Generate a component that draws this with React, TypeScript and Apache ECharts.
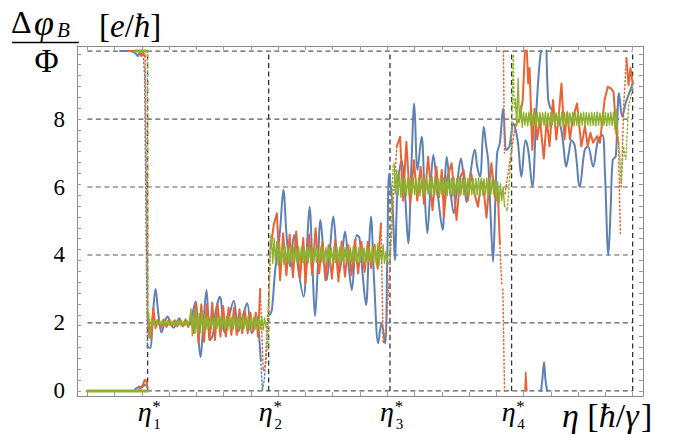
import React, { useEffect, useRef } from "react";
import * as echarts from "echarts";

type Pt = [number, number];

const SERIF = "Liberation Serif";
const BLUE = "#5E81B5";
const ORANGE = "#EB6235";
const GREEN = "#8FB131";

const X_MIN = -0.38;
const X_MAX = 20.38;
const Y_MIN = -0.15;
const Y_MAX = 10.15;

const yLabelValues = [0, 2, 4, 6, 8];
const gridYValues = [0, 2, 4, 6, 8, 10];
const etaStars = [2.21, 6.65, 11.1, 15.56];
const etaEnd = 20;
const etaSubs = ["1", "2", "3", "4"];
const xTickValues = Array.from({ length: 21 }, (_, i) => i);
const yTickValues = Array.from({ length: 32 }, (_, i) => +(i * 0.32).toFixed(2));

// ---------- blue ----------
const blueLow: Pt[] = [[0, 0], [1.7, 0], [1.8, 0.08], [1.9, 0.12], [2.0, 0.1], [2.1, 0.18], [2.18, 0.15]];
const blueTop: Pt[] = [[1.2, 10], [1.6, 10], [1.75, 9.95], [1.85, 9.85], [1.92, 9.95], [2.05, 9.9]];
const blueJump1: Pt[] = [[2.05, 9.9], [2.1, 9.3], [2.15, 5], [2.2, 1.3]];
const blueMain1: Pt[] = [[2.2, 1.3], [2.3, 1.26], [2.4, 2.2], [2.5, 3.0], [2.6, 2.3], [2.72, 1.72], [2.83, 2.0], [2.94, 2.19], [3.05, 2.0], [3.16, 1.86], [3.27, 2.0], [3.37, 2.14], [3.5, 1.92], [3.63, 2.02], [3.75, 1.95], [3.86, 2.3], [3.97, 2.63], [4.07, 1.6], [4.15, 1.0], [4.25, 1.9], [4.37, 2.97], [4.5, 1.5], [4.6, 1.65], [4.72, 2.4], [4.86, 2.77], [5.0, 1.8], [5.07, 1.7], [5.2, 2.2], [5.37, 2.65], [5.54, 1.75], [5.7, 2.2], [5.86, 2.58], [6.03, 1.7], [6.13, 1.9], [6.22, 2.19], [6.3, 1.6], [6.36, 0.9]];
const blueJump2: Pt[] = [[6.36, 0.9], [6.42, 0.0], [6.5, 0.4], [6.62, 2.2]];
const blueMain2: Pt[] = [[6.62, 2.2], [6.7, 2.25], [6.77, 2.4], [6.89, 3.56], [6.97, 4.0], [7.07, 4.74], [7.19, 5.91], [7.31, 4.54], [7.44, 3.66], [7.58, 4.59], [7.75, 3.5], [7.93, 2.77], [8.05, 4.2], [8.15, 5.42], [8.25, 3.8], [8.35, 2.2], [8.45, 3.6], [8.55, 5.03], [8.67, 4.0], [8.78, 3.26], [8.9, 4.2], [9.02, 5.13], [9.13, 4.2], [9.24, 3.46], [9.35, 4.1], [9.45, 4.69], [9.58, 3.7], [9.7, 2.97], [9.8, 3.9], [9.88, 4.59], [9.98, 4.5], [10.1, 3.4], [10.22, 2.53], [10.32, 4.0], [10.4, 5.13], [10.52, 3.2], [10.67, 1.4], [10.79, 2.0], [10.92, 1.4], [11.0, 3.85], [11.07, 6.4], [11.2, 5.32], [11.28, 3.85], [11.38, 6.01], [11.53, 6.79], [11.65, 5.8], [11.77, 4.34], [11.88, 6.5], [11.99, 8.46], [12.11, 6.5], [12.26, 7.48], [12.36, 6.0], [12.47, 4.64], [12.58, 5.9], [12.69, 6.94], [12.85, 5.8], [13.03, 4.74], [13.1, 5.9], [13.18, 6.89], [13.3, 6.0], [13.44, 5.23], [13.58, 6.2], [13.7, 6.84], [13.8, 6.3], [13.91, 5.55], [14.05, 6.4], [14.21, 7.1], [14.3, 6.6], [14.4, 6.3], [14.54, 7.77], [14.63, 7.2], [14.7, 6.79], [14.8, 5.0], [14.88, 3.8], [14.96, 5.5], [15.03, 6.99], [15.13, 7.3], [15.25, 8.31], [15.37, 7.09], [15.48, 7.2], [15.62, 7.87], [15.78, 7.38], [15.92, 6.3], [16.07, 7.38], [16.17, 7.09], [16.32, 6.01], [16.47, 8.26], [16.57, 9.5], [16.64, 10.02]];
const blueWrap: Pt[] = [[16.64, 0], [16.69, 0.35], [16.75, 0.85], [16.8, 0.35], [16.86, 0]];
const blueMain3: Pt[] = [[16.84, 10.02], [16.9, 8.6], [16.97, 8.35], [17.05, 8.26], [17.15, 8.1], [17.33, 7.87], [17.45, 7.3], [17.56, 6.6], [17.66, 7.0], [17.76, 7.38], [17.88, 7.2], [18.06, 6.01], [18.24, 7.09], [18.36, 7.2], [18.55, 6.6], [18.73, 7.38], [18.89, 7.53], [18.98, 6.5], [19.11, 4.0], [19.2, 5.5], [19.27, 6.79], [19.38, 6.9], [19.5, 8.76], [19.62, 8.07], [19.74, 8.46], [19.89, 8.8], [20.0, 9.05]];

// ---------- orange ----------
const orangeLow: Pt[] = [[0, 0], [1.85, 0], [1.95, 0.08], [2.05, 0.2], [2.1, 0.32], [2.17, 0.3], [2.2, 0.1]];
const orangeTop: Pt[] = [[1.5, 10], [1.9, 10], [1.98, 9.85], [2.05, 9.95], [2.12, 9.85]];
const orangeJump1: Pt[] = [[2.12, 9.85], [2.17, 6.0], [2.21, 2.3]];
const orangeMain1: Pt[] = [[2.21, 2.3], [2.27, 1.6], [2.34, 1.55], [2.42, 2.45], [2.5, 1.85], [2.6, 2.1], [2.7, 1.85], [2.8, 2.1], [2.9, 1.88], [3.0, 2.1], [3.1, 1.9], [3.2, 2.08], [3.3, 1.9], [3.4, 2.08], [3.5, 1.9], [3.6, 2.1], [3.7, 1.88], [3.8, 2.2], [3.9, 1.7], [3.97, 2.58], [4.08, 1.4], [4.18, 2.55], [4.28, 1.45], [4.38, 2.55], [4.48, 1.5], [4.58, 2.6], [4.68, 1.5], [4.78, 2.55], [4.88, 1.6], [4.98, 2.5], [5.08, 1.6], [5.18, 2.45], [5.28, 1.65], [5.38, 2.45], [5.48, 1.65], [5.58, 2.4], [5.68, 1.7], [5.78, 2.35], [5.88, 1.7], [5.98, 2.3], [6.08, 1.75], [6.18, 2.3], [6.26, 1.6], [6.34, 3.0]];
const orangeJump2: Pt[] = [[6.34, 3.0], [6.45, 0.6], [6.55, 0.8], [6.64, 2.6], [6.72, 4.2]];
const orangeMain2: Pt[] = [[6.72, 4.2], [6.84, 4.9], [6.95, 5.23], [7.07, 3.26], [7.18, 4.64], [7.3, 3.4], [7.42, 4.6], [7.54, 3.35], [7.66, 4.69], [7.8, 3.3], [7.92, 4.5], [8.0, 3.17], [8.13, 4.6], [8.25, 3.4], [8.37, 4.79], [8.5, 3.46], [8.62, 4.39], [8.73, 3.26], [8.85, 4.29], [8.97, 3.3], [9.09, 4.44], [9.21, 3.22], [9.33, 4.4], [9.45, 3.36], [9.57, 4.29], [9.69, 3.4], [9.81, 4.44], [9.93, 3.46], [10.05, 4.39], [10.17, 3.5], [10.29, 4.39], [10.41, 3.61], [10.53, 4.3], [10.65, 3.6], [10.77, 4.93]];
const orangeJump3: Pt[] = [[10.77, 4.93], [10.85, 1.4], [10.95, 1.8], [11.05, 3.0], [11.2, 5.3], [11.35, 7.2]];
const orangeMain3: Pt[] = [[11.35, 7.2], [11.47, 7.48], [11.58, 5.6], [11.7, 7.33], [11.84, 5.5], [11.98, 6.79], [12.1, 5.6], [12.22, 6.6], [12.35, 5.5], [12.5, 6.89], [12.66, 5.32], [12.8, 6.6], [12.9, 5.7], [13.0, 6.5], [13.08, 5.13], [13.2, 6.3], [13.36, 6.7], [13.54, 5.03], [13.68, 6.3], [13.8, 6.5], [13.95, 5.6], [14.08, 6.4], [14.2, 5.8], [14.33, 5.42], [14.45, 6.2], [14.55, 5.8], [14.64, 5.1], [14.73, 6.0], [14.82, 6.7], [14.95, 5.7], [15.05, 5.9], [15.13, 4.34]];
const orangeJump4a: Pt[] = [[15.13, 4.34], [15.2, 3.1]];
const orangeJump4d: Pt[] = [[15.24, 3.0], [15.3, 0]];
const orangeJump4b: Pt[] = [[15.26, 10], [15.3, 7.0]];
const orangeJump4c: Pt[] = [[15.32, 5.8], [15.45, 6.5], [15.58, 7.2], [15.7, 7.8]];
const orangeMain4: Pt[] = [[15.7, 7.8], [15.85, 8.0], [15.97, 8.56], [16.05, 10.02]];
const orangeWrap: Pt[] = [[16.05, 0], [16.08, 0.55], [16.12, 0]];
const orangeMain5: Pt[] = [[16.12, 10.02], [16.17, 9.05], [16.22, 9.5], [16.32, 7.09], [16.4, 8.3], [16.5, 7.4], [16.6, 8.0], [16.74, 6.84], [16.85, 8.0], [16.95, 7.2], [17.08, 8.56], [17.2, 7.4], [17.3, 8.2], [17.39, 9.05], [17.5, 7.4], [17.6, 8.2], [17.7, 7.4], [17.8, 8.0], [17.96, 8.46], [18.12, 7.19], [18.25, 7.8], [18.35, 7.2], [18.45, 7.6], [18.55, 7.3], [18.7, 7.5], [18.8, 7.3], [18.97, 8.56], [19.09, 8.95], [19.2, 8.9], [19.3, 8.8], [19.4, 7.6], [19.48, 7.3]];
const orangeJump5: Pt[] = [[19.48, 7.3], [19.55, 4.64]];
const orangeJump6: Pt[] = [[19.58, 6.0], [19.68, 8.5], [19.77, 9.8]];
const orangeMain6: Pt[] = [[19.77, 9.8], [19.85, 9.0], [19.92, 9.5], [20.0, 9.05]];

// ---------- green (dense samples, step 0.05) ----------
const GREEN_STEP = 0.05;
const greenLow: Pt[] = [[0, 0], [2.22, 0]];
const greenTop: Pt[] = [[1.75, 10], [2.2, 10]];
const greenJump1: Pt[] = [[2.2, 10], [2.22, 2.1]];
const greenP2X0 = 2.25;
const greenP2 = [2.3, 1.55, 2.12, 1.9, 2.08,
  1.93, 2.07, 1.94, 2.06, 1.92, 2.08, 1.93, 2.06, 1.94, 2.07, 1.92, 2.08, 1.94, 2.06, 1.93, 2.07, 1.92, 2.08, 1.93, 2.07, 1.94, 2.06, 1.93, 2.08, 1.92, 2.07,
  2.42, 1.62, 2.3, 1.7, 2.38, 1.66, 2.28, 1.72, 2.3, 1.74, 2.26,
  1.8, 2.2, 1.84, 2.18, 1.82, 2.16, 1.8, 2.2, 1.83, 2.17, 1.81, 2.2, 1.84, 2.16, 1.82, 2.19, 1.8, 2.2, 1.83, 2.17, 1.81, 2.2, 1.84, 2.16, 1.82, 2.19, 1.8, 2.21, 1.83, 2.17, 1.82, 2.2, 1.8, 2.18, 1.84, 2.16, 1.8, 2.2, 1.83, 2.17, 1.82, 2.19, 1.8, 2.15,
  1.9];
const greenJump2: Pt[] = [[6.55, 1.9], [6.62, 1.2], [6.66, 2.4], [6.72, 4.6]];
const greenP4X0 = 6.75;
const greenP4 = [4.6, 3.75, 4.5, 3.8, 4.4, 3.7, 4.35, 3.75, 4.3, 3.72,
  4.24, 3.78, 4.22, 3.76, 4.25, 3.77, 4.23, 3.79, 4.21, 3.76,
  4.24, 3.78, 4.23, 3.77, 4.22, 3.79, 4.24, 3.76, 4.23, 3.78,
  4.21, 3.77, 4.25, 3.78, 4.22, 3.76, 4.23, 3.79, 4.24, 3.77,
  4.22, 3.78, 4.23, 3.76, 4.21, 3.79, 4.24, 3.77, 4.22, 3.78,
  4.23, 3.77, 4.25, 3.76, 4.22, 3.78, 4.23, 3.77, 4.21, 3.79,
  4.24, 3.76, 4.23, 3.78, 4.22, 3.77, 4.24, 3.79, 4.21, 3.76,
  4.23, 3.78, 4.22, 3.77, 4.24, 3.76, 4.3, 3.72, 4.35, 3.7,
  4.2, 3.8, 4.3, 3.75, 4.1, 3.9];
const greenJump3: Pt[] = [[11.0, 3.9], [11.08, 3.7], [11.15, 5.0], [11.22, 6.7]];
const greenP6X0 = 11.25;
const greenP6 = [6.7, 5.8, 6.5, 5.75, 6.4, 5.7,
  6.27, 5.76, 6.25, 5.74, 6.28, 5.77, 6.26, 5.75, 6.27, 5.78,
  6.24, 5.76, 6.28, 5.74, 6.26, 5.77, 6.27, 5.75, 6.25, 5.78,
  6.27, 5.76, 6.29, 5.75, 6.25, 5.77, 6.27, 5.74, 6.26, 5.78,
  6.28, 5.76, 6.25, 5.75, 6.27, 5.77, 6.26, 5.74, 6.28, 5.78,
  6.25, 5.76, 6.27, 5.75, 6.26, 5.77, 6.28, 5.74, 6.25, 5.76,
  6.27, 5.78, 6.26, 5.75, 6.25, 5.77, 6.27, 5.74, 6.26, 5.76,
  6.24, 5.77, 6.27, 5.75, 6.25, 5.78, 6.25, 5.8, 6.2, 5.6,
  6.15, 5.5, 6.1, 5.6, 6.0, 5.45];
const greenJump4: Pt[] = [[15.3, 5.45], [15.4, 5.3], [15.55, 7.0], [15.62, 9.9], [15.66, 8.3]];
const greenP8X0 = 15.7;
const greenP8 = [8.6, 7.8, 9.2, 7.9, 8.4, 7.75,
  8.2, 7.82, 8.18, 7.8, 8.21, 7.82, 8.19, 7.81, 8.2, 7.83,
  8.18, 7.8, 8.2, 7.82, 8.19, 7.81, 8.21, 7.82, 8.18, 7.8,
  8.2, 7.83, 8.19, 7.81, 8.18, 7.82, 8.21, 7.8, 8.2, 7.82,
  8.19, 7.81, 8.2, 7.82, 8.18, 7.83, 8.2, 7.8, 8.19, 7.82,
  8.21, 7.81, 8.18, 7.82, 8.2, 7.8, 8.19, 7.83, 8.18, 7.81,
  8.2, 7.82, 8.19, 7.8, 8.21, 7.82, 8.18, 7.81, 8.2, 7.82,
  8.19, 7.8, 8.18, 7.82, 8.2, 7.81, 8.2, 7.7, 8.3, 7.6];
const greenJump5: Pt[] = [[19.45, 7.6], [19.52, 7.0], [19.58, 6.1], [19.66, 7.2], [19.75, 6.8], [19.85, 8.4], [19.95, 8.7], [20.0, 9.0]];

const samples = (x0: number, vals: number[]): Pt[] => vals.map((v, i) => [+(x0 + i * GREEN_STEP).toFixed(3), v]);

const solid = (data: Pt[], color: string, width: number, smooth: number | boolean = false) => ({
  type: "line", data, xAxisIndex: 0, yAxisIndex: 0, symbol: "none", showSymbol: false, smooth,
  lineStyle: { color, width, cap: "round", join: "round" }, silent: true,
});
const dotted = (data: Pt[], color: string) => ({
  type: "line", data, xAxisIndex: 0, yAxisIndex: 0, symbol: "none", showSymbol: false,
  lineStyle: { color, width: 1.5, type: [1.3, 2.6], cap: "round" }, silent: true,
});
const dashed = (data: Pt[], color: string, width: number) => ({
  type: "line", data, xAxisIndex: 0, yAxisIndex: 0, symbol: "none", showSymbol: false,
  lineStyle: { color, width, type: [5, 3.5] }, silent: true,
});

function buildOption() {
  const gridSeries = [
    ...gridYValues.map((v) => dashed([[0, v], [etaEnd, v]], "#5a5a5a", 1.2)),
    ...[...etaStars, etaEnd].map((v) => dashed([[v, 0], [v, 10]], "#333", 1.3)),
  ];
  const blueSeries = [
    solid(blueLow, BLUE, 2), solid(blueTop, BLUE, 2), dotted(blueJump1, BLUE),
    solid(blueMain1, BLUE, 2, 0.35), dotted(blueJump2, BLUE), solid(blueMain2, BLUE, 2, 0.35),
    solid(blueWrap, BLUE, 2, 0.3), solid(blueMain3, BLUE, 2, 0.35),
  ];
  const orangeSeries = [
    solid(orangeLow, ORANGE, 2), solid(orangeTop, ORANGE, 2), dotted(orangeJump1, ORANGE),
    solid(orangeMain1, ORANGE, 2), dotted(orangeJump2, ORANGE), solid(orangeMain2, ORANGE, 2),
    dotted(orangeJump3, ORANGE), solid(orangeMain3, ORANGE, 2), dotted(orangeJump4a, ORANGE),
    dotted(orangeJump4d, ORANGE), dotted(orangeJump4b, ORANGE), dotted(orangeJump4c, ORANGE),
    solid(orangeMain4, ORANGE, 2), solid(orangeWrap, ORANGE, 1.6), solid(orangeMain5, ORANGE, 2),
    dotted(orangeJump5, ORANGE), dotted(orangeJump6, ORANGE), solid(orangeMain6, ORANGE, 2),
  ];
  const greenSeries = [
    solid(greenLow, GREEN, 3), solid(greenTop, GREEN, 3), dotted(greenJump1, GREEN),
    solid(samples(greenP2X0, greenP2), GREEN, 1.4), dotted(greenJump2, GREEN),
    solid(samples(greenP4X0, greenP4), GREEN, 1.4), dotted(greenJump3, GREEN),
    solid(samples(greenP6X0, greenP6), GREEN, 1.4), dotted(greenJump4, GREEN),
    solid(samples(greenP8X0, greenP8), GREEN, 1.4), dotted(greenJump5, GREEN),
  ];
  const frameAxis = {
    type: "value", min: X_MIN, max: X_MAX,
    axisLine: { show: true, onZero: false, lineStyle: { color: "#8a8a8a", width: 1 } },
    axisTick: { show: true, inside: true, length: 4, customValues: xTickValues, lineStyle: { color: "#9a9a9a", width: 1 } },
    axisLabel: { show: false }, splitLine: { show: false },
  };
  const yFrame = {
    type: "value", min: Y_MIN, max: Y_MAX,
    axisLine: { show: true, onZero: false, lineStyle: { color: "#8a8a8a", width: 1 } },
    axisTick: { show: true, inside: true, length: 4, customValues: yTickValues, lineStyle: { color: "#9a9a9a", width: 1 } },
    splitLine: { show: false },
  };
  return {
    animation: false,
    backgroundColor: "#fff",
    textStyle: { fontFamily: SERIF },
    grid: { left: 77, right: 30, top: 46, bottom: 39, containLabel: false },
    xAxis: [
      { ...frameAxis, position: "bottom" },
      { ...frameAxis, position: "top" },
    ],
    yAxis: [
      {
        ...yFrame, position: "left",
        axisLabel: { show: true, customValues: yLabelValues, color: "#000", fontFamily: SERIF, fontSize: 23, margin: 12 },
      },
      { ...yFrame, position: "right", axisLabel: { show: false } },
    ],
    series: [...gridSeries, ...blueSeries, ...orangeSeries, ...greenSeries],
  };
}

const txt = (x: number, y: number, text: string, size: number, italic: boolean, align = "left", extra: any = {}) => ({
  type: "text", x, y, silent: true,
  style: {
    text, fill: "#000", fontFamily: SERIF, fontSize: size, fontStyle: italic ? "italic" : "normal",
    align, verticalAlign: "middle", textAlign: align, textVerticalAlign: "middle", ...extra,
  },
});

function buildGraphics(gx: (v: number) => number) {
  const mk = (size: number) => ({
    u: { fontFamily: SERIF, fontSize: size, fontStyle: "normal", fill: "#000" },
    i: { fontFamily: SERIF, fontSize: size, fontStyle: "italic", fill: "#000" },
    sp: { fontFamily: SERIF, fontSize: size, fill: "#000" },
    t: { fontFamily: SERIF, fontSize: 10, fill: "#000" },
  });
  const els: any[] = [
    txt(11, 22, "Δ", 32, false),
    txt(34, 23, "φ", 36, true),
    txt(57, 30, "B", 21, true),
    { type: "line", silent: true, shape: { x1: 12, y1: 42.5, x2: 79, y2: 42.5 }, style: { stroke: "#000", lineWidth: 1.3 } },
    txt(46.5, 61, "Φ", 33, false, "center"),
    txt(99, 26, "{u|[}{i|e}{u|/}{i|ħ}{u|]}", 33, false, "left", { rich: mk(33) }),
    txt(562, 415, "{i|η}{sp| }{u|[}{i|ħ}{u|/}{i|γ}{t| }{u|]}", 34, false, "left", { rich: mk(34) }),
  ];
  etaStars.forEach((v, k) => {
    const px = gx(v);
    els.push(txt(px - 3, 411, "η", 28, true, "center"));
    els.push(txt(px + 9, 406, "*", 17, false, "center"));
    els.push(txt(px + 9.5, 424, etaSubs[k], 15, false, "center"));
  });
  return els;
}

export default function App() {
  const ref = useRef<HTMLDivElement>(null);
  useEffect(() => {
    const el = ref.current;
    if (!el) return;
    const chart = echarts.init(el, null, { renderer: "svg" });
    chart.setOption(buildOption() as any);
    const gx = (v: number) => chart.convertToPixel({ xAxisIndex: 0 }, v) as unknown as number;
    chart.setOption({ graphic: { elements: buildGraphics(gx) } } as any);
    return () => chart.dispose();
  }, []);
  return (
    <div
      ref={ref}
      style={{ position: "fixed", left: 0, top: 0, width: 673, height: 435, background: "#fff" }}
    />
  );
}
